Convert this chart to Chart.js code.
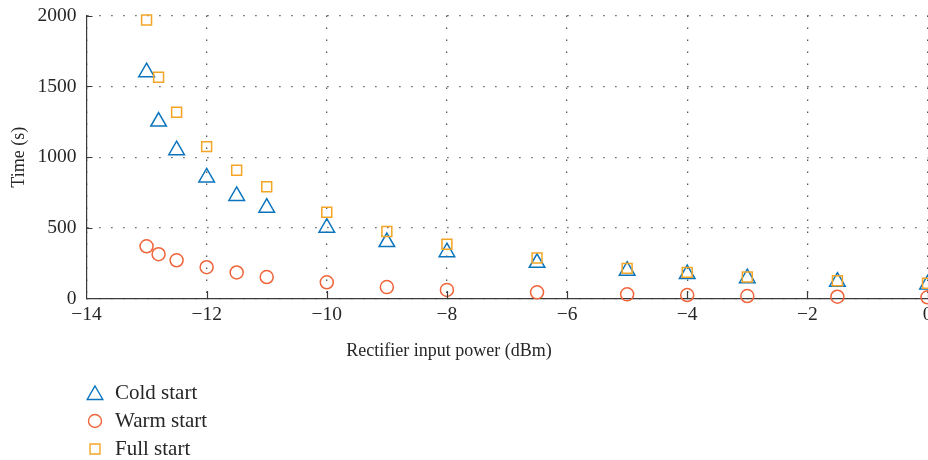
<!DOCTYPE html>
<html>
<head>
<meta charset="utf-8">
<title>Start-up time vs rectifier input power</title>
<script src="https://cdn.jsdelivr.net/npm/chart.js@4.4.1/dist/chart.umd.min.js"></script>
<style>
  html, body { margin: 0; padding: 0; background: #fff; overflow: hidden; }
  #wrap { width: 928px; height: 460px; position: relative; }
</style>
</head>
<body>
<div id="wrap"><canvas id="startup"></canvas></div>
<script>
// rectifier input power (dBm) and start-up times (s)
const power = [-13, -12.8, -12.5, -12, -11.5, -11, -10, -9, -8, -6.5, -5, -4, -3, -1.5, 0];
const coldStart = [1600, 1252, 1050, 858, 727, 644, 503, 402, 330, 255, 200, 176, 147, 122, 103];
const warmStart = [372, 316, 273, 224, 187, 155, 118, 84, 64, 47, 33, 28, 21, 16, 12];
const fullStart = [1968, 1564, 1317, 1075, 908, 792, 612, 476, 386, 289, 216, 188, 155, 129, 111];

const seriesNames = ['Cold start', 'Warm start', 'Full start'];
const xTicks = [-14, -12, -10, -8, -6, -4, -2, 0];
const yTicks = [0, 500, 1000, 1500, 2000];

const colors = ['#0b74bd', '#f0643a', '#f4a526'];
const serif = "'Liberation Serif', 'DejaVu Serif', serif";
const ink = '#262626';
const axisColor = '#3a3a3a';

const toPoints = ys => power.map((x, i) => ({ x: x, y: ys[i] }));
const plain = v => String(v).replace('-', '\u2212');

// small inward tick marks on both axes
const innerTicks = {
  id: 'innerTicks',
  afterDraw(chart) {
    const { ctx, chartArea: a, scales: { x, y } } = chart;
    ctx.save();
    ctx.strokeStyle = axisColor;
    ctx.lineWidth = 1.2;
    ctx.beginPath();
    xTicks.slice(1).forEach(v => {
      const px = Math.round(x.getPixelForValue(v)) + 0.5;
      ctx.moveTo(px, a.bottom);
      ctx.lineTo(px, a.bottom - 8);
    });
    yTicks.slice(1).forEach(v => {
      const py = Math.round(y.getPixelForValue(v)) + 0.5;
      ctx.moveTo(a.left, py);
      ctx.lineTo(a.left + 6, py);
    });
    ctx.stroke();
    ctx.restore();
  }
};

// x axis title and the stacked legend under the plot
function marker(ctx, style, cx, cy, r) {
  ctx.beginPath();
  if (style === 'triangle') {
    ctx.moveTo(cx, cy - r);
    ctx.lineTo(cx + r * 0.866, cy + r * 0.5);
    ctx.lineTo(cx - r * 0.866, cy + r * 0.5);
    ctx.closePath();
  } else if (style === 'circle') {
    ctx.arc(cx, cy, r, 0, Math.PI * 2);
  } else {
    const s = r * Math.SQRT1_2;
    ctx.rect(cx - s, cy - s, 2 * s, 2 * s);
  }
  ctx.stroke();
}

const captions = {
  id: 'captions',
  afterDraw(chart) {
    const { ctx, chartArea: a } = chart;
    ctx.save();
    ctx.fillStyle = ink;
    ctx.font = '18px ' + serif;
    ctx.textBaseline = 'middle';
    ctx.textAlign = 'center';
    ctx.fillText('Rectifier input power (dBm)', a.left + (a.right - a.left) * 0.431, 351);

    ctx.textAlign = 'left';
    ctx.font = '21px ' + serif;
    chart.data.datasets.forEach((ds, i) => {
      const cy = 393 + i * 28;
      ctx.strokeStyle = ds.borderColor;
      ctx.lineWidth = 1.4;
      marker(ctx, ds.pointStyle, 95, cy + (ds.pointStyle === 'triangle' ? 2 : 0), ds.pointRadius);
      ctx.fillText(ds.label, 115, cy);
    });
    ctx.restore();
  }
};

const series = [coldStart, warmStart, fullStart];
const styles = ['triangle', 'circle', 'rect'];
const radii = [9, 6.5, 7];
const drawOrder = [2, 1, 0];

new Chart('startup', {
  type: 'scatter',
  data: {
    datasets: series.map((ys, i) => ({
      label: seriesNames[i],
      data: toPoints(ys),
      order: drawOrder[i],
      pointStyle: styles[i],
      pointRadius: radii[i],
      pointHoverRadius: radii[i],
      borderColor: colors[i],
      backgroundColor: 'rgba(0,0,0,0)',
      pointBorderWidth: 1.5,
      clip: false
    }))
  },
  options: {
    responsive: true,
    maintainAspectRatio: false,
    animation: false,
    layout: { autoPadding: false, padding: { top: 15.5, right: 0.5, left: 0, bottom: 0 } },
    plugins: {
      legend: { display: false },
      tooltip: { enabled: false }
    },
    scales: {
      x: {
        type: 'linear',
        min: -14,
        max: 0,
        afterBuildTicks: s => { s.ticks = xTicks.map(v => ({ value: v })); },
        afterFit: s => { s.height = 161; s.paddingLeft = 0; s.paddingRight = 0; },
        ticks: {
          callback: plain,
          color: ink,
          padding: 4,
          maxRotation: 0,
          font: { family: serif, size: 19.5 }
        },
        grid: { color: '#555', lineWidth: 1.3, drawTicks: false },
        border: { color: axisColor, width: 1.2, dash: [1.4, 10.6] }
      },
      y: {
        type: 'linear',
        min: 0,
        max: 2000,
        afterBuildTicks: s => { s.ticks = yTicks.map(v => ({ value: v })); },
        afterFit: s => { s.width = 86.5; s.paddingTop = 0; s.paddingBottom = 0; },
        ticks: {
          callback: plain,
          color: ink,
          padding: 10,
          font: { family: serif, size: 19.5 }
        },
        grid: { color: '#555', lineWidth: 1.3, drawTicks: false },
        border: { color: axisColor, width: 1.2, dash: [1.4, 10.6] },
        title: {
          display: true,
          text: 'Time (s)',
          color: ink,
          padding: { top: 8, bottom: 0 },
          font: { family: serif, size: 18 }
        }
      }
    }
  },
  plugins: [innerTicks, captions]
});
</script>
</body>
</html>
